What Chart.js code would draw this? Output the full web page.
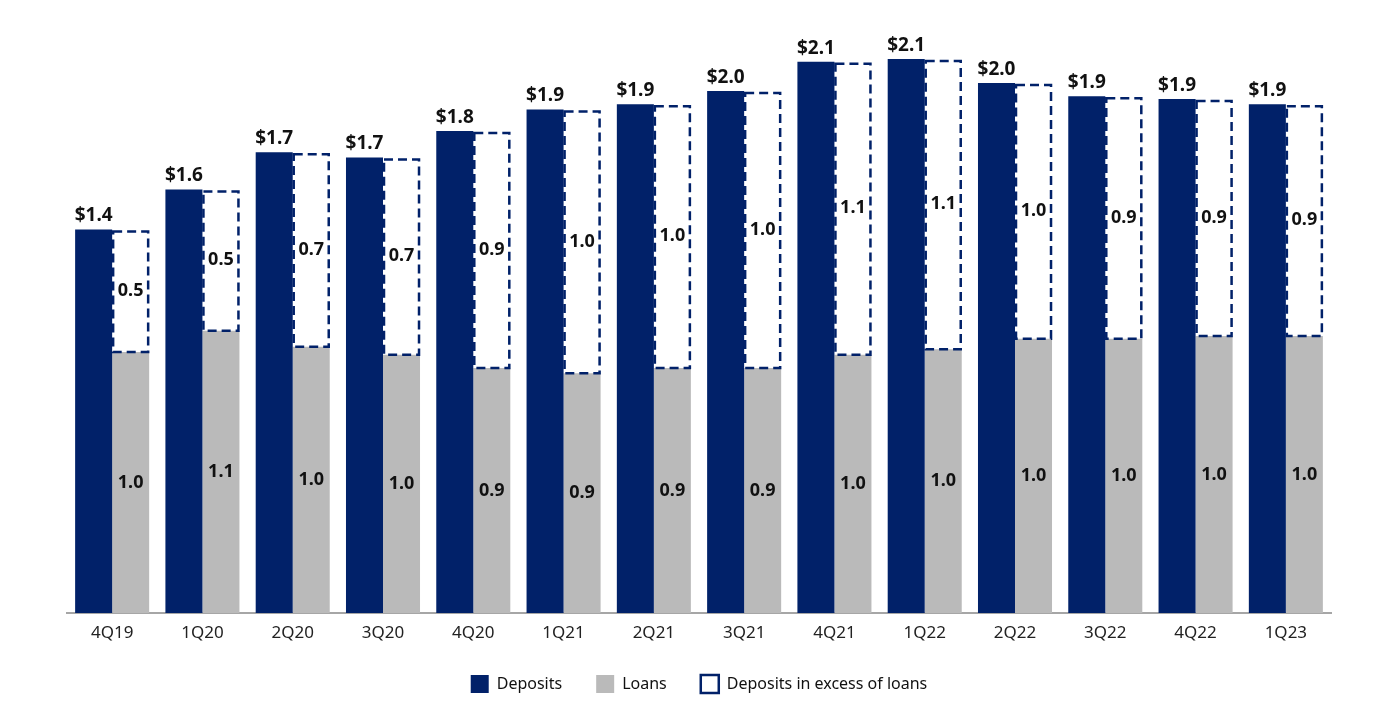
<!DOCTYPE html>
<html>
<head>
<meta charset="utf-8">
<script src="https://cdn.jsdelivr.net/npm/chart.js@4.4.1/dist/chart.umd.min.js"></script>
<style>
  html, body { margin: 0; padding: 0; background: #fff; }
  #wrap { width: 1385px; height: 720px; }
</style>
</head>
<body>
<div id="wrap"><canvas id="chart"></canvas></div>
<script>
// --- Chart data ---
const quarters = ['4Q19', '1Q20', '2Q20', '3Q20', '4Q20', '1Q21', '2Q21', '3Q21', '4Q21', '1Q22', '2Q22', '3Q22', '4Q22', '1Q23'];
const deposits = [1.44, 1.59, 1.73, 1.71, 1.81, 1.89, 1.91, 1.96, 2.07, 2.08, 1.99, 1.94, 1.93, 1.91];
const loans = [0.98, 1.06, 1.00, 0.97, 0.92, 0.90, 0.92, 0.92, 0.97, 0.99, 1.03, 1.03, 1.04, 1.04];
const excess = [0.46, 0.53, 0.73, 0.74, 0.89, 0.99, 0.99, 1.04, 1.10, 1.09, 0.96, 0.91, 0.89, 0.87];

const NAVY = '#012169';
const GREY = '#bababa';
const FONT = '"Noto Sans", "Open Sans", sans-serif';

const fmt = v => (Math.round(v * 10) / 10).toFixed(1);

// --- Dashed outline for the "excess" bars + value labels ---
const labelPlugin = {
    id: 'barLabels',
    afterDatasetsDraw(chart) {
        const ctx = chart.ctx;
        ctx.save();

        // dashed boxes
        const exMeta = chart.getDatasetMeta(2);
        ctx.strokeStyle = NAVY;
        ctx.lineWidth = 2.5;
        ctx.setLineDash([9, 5]);
        exMeta.data.forEach(bar => {
            const left = bar.x - bar.width / 2;
            const w = bar.width;
            ctx.strokeRect(left + 1, bar.y + 2, w - 2, bar.base - bar.y - 2);
        });
        ctx.setLineDash([]);

        ctx.fillStyle = '#111';
        ctx.textAlign = 'center';

        // deposits: "$x.x" above the bar
        ctx.font = `bold 19px ${FONT}`;
        ctx.textBaseline = 'bottom';
        chart.getDatasetMeta(0).data.forEach((bar, i) => {
            ctx.fillText('$' + fmt(deposits[i]), bar.x, bar.y - 4);
        });

        // loans & excess: centred in their segments
        ctx.font = `bold 18px ${FONT}`;
        ctx.textBaseline = 'middle';
        chart.getDatasetMeta(1).data.forEach((bar, i) => {
            ctx.fillText(fmt(loans[i]), bar.x, (bar.y + bar.base) / 2);
        });
        exMeta.data.forEach((bar, i) => {
            ctx.fillStyle = '#fff';
            const tw = ctx.measureText(fmt(excess[i])).width;
            ctx.fillRect(bar.x - tw / 2 - 1, (bar.y + bar.base) / 2 - 10, tw + 2, 20);
            ctx.fillStyle = '#111';
            ctx.fillText(fmt(excess[i]), bar.x, (bar.y + bar.base) / 2);
        });

        ctx.restore();
    }
};

const ctx = document.getElementById('chart').getContext('2d');
new Chart(ctx, {
    type: 'bar',
    data: {
        labels: quarters,
        datasets: [
            { label: 'Deposits', data: deposits, backgroundColor: NAVY, stack: 'dep' },
            { label: 'Loans', data: loans, backgroundColor: GREY, stack: 'loan' },
            { label: 'Deposits in excess of loans', data: excess, backgroundColor: '#fff', stack: 'loan' }
        ]
    },
    options: {
        responsive: true,
        maintainAspectRatio: false,
        animation: false,
        layout: { padding: { left: 67, right: 54, top: 27, bottom: 17 } },
        datasets: {
            bar: { categoryPercentage: 0.82, barPercentage: 1.0, borderWidth: 0 }
        },
        scales: {
            x: {
                stacked: true,
                grid: { display: false },
                border: { color: '#a6a6a6', width: 2 },
                ticks: { color: '#222', font: { family: FONT, size: 17 }, padding: 2 },
                afterFit(scale) { scale.height = 28; }
            },
            y: {
                stacked: true,
                display: false,
                min: 0,
                max: 2.2
            }
        },
        plugins: {
            tooltip: { enabled: false },
            legend: {
                position: 'bottom',
                labels: {
                    color: '#111',
                    font: { family: FONT, size: 16 },
                    boxWidth: 18,
                    boxHeight: 18,
                    padding: 34,
                    generateLabels(chart) {
                        const items = Chart.defaults.plugins.legend.labels.generateLabels(chart);
                        items.forEach(item => {
                            item.lineWidth = 0;
                            if (item.datasetIndex === 2) {
                                item.fillStyle = '#fff';
                                item.strokeStyle = NAVY;
                                item.lineWidth = 2.5;
                            }
                        });
                        return items;
                    }
                }
            }
        }
    },
    plugins: [labelPlugin]
});
</script>
</body>
</html>
